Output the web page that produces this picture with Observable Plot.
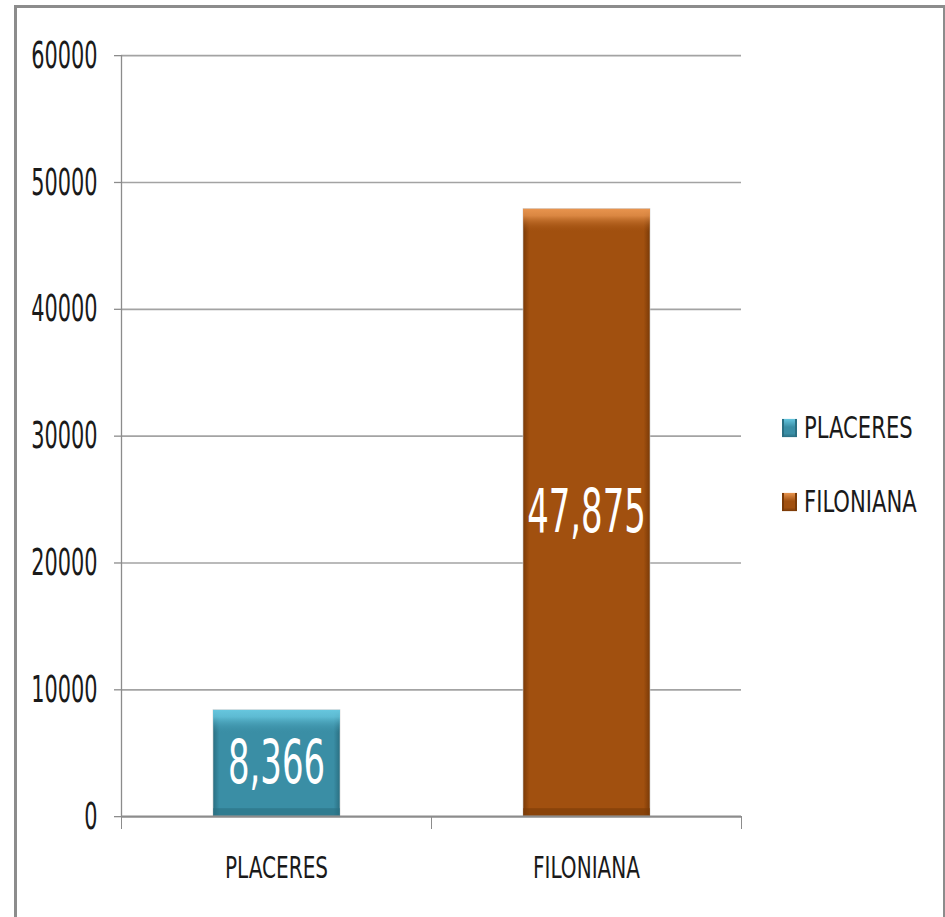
<!DOCTYPE html>
<html>
<head>
<meta charset="utf-8">
<script src="https://cdn.jsdelivr.net/npm/d3@7"></script>
<script src="https://cdn.jsdelivr.net/npm/@observablehq/plot@0.6"></script>
<style>
  html, body { margin: 0; padding: 0; background: #fff; overflow: hidden; }
  #wrap { position: relative; width: 945px; height: 917px; overflow: hidden; }
  #frame { position: absolute; left: 14px; top: 5px; width: 926px; height: 1000px; border: 3px solid #8c8c8c; box-sizing: content-box; pointer-events: none; }
  #chart { position: absolute; left: 0; top: 0; }
  .legend-item { position: absolute; left: 782px; height: 30px; display: flex; align-items: center; transform: scaleY(1.3); transform-origin: left center;
    font-family: 'Liberation Sans Narrow', 'DejaVu Sans Condensed', 'Arial Narrow', sans-serif; font-size: 23.5px; color: #1a1a1a; white-space: nowrap; }
  .swatch { width: 15px; height: 14px; margin-right: 7px; }
</style>
</head>
<body>
<div id="wrap">
  <div id="chart"></div>
  <div id="legend"></div>
  <div id="frame"></div>
</div>
<script>
// ---- data ----
const categories = ["PLACERES", "FILONIANA"];
const values = [8366, 47875];
const valueLabels = ["8,366", "47,875"];
const yTicks = [0, 10000, 20000, 30000, 40000, 50000, 60000];
const mainColors = ["#3a8ea5", "#a1500f"];
const lightColors = ["#66c6de", "#e8944e"];
const darkColors = ["#2a6f82", "#7a3a07"];

// ---- layout (chart drawn in a compressed coordinate space then stretched vertically) ----
const W = 945, H = 705, S = 917 / H;
const font = "'Liberation Sans Narrow', 'DejaVu Sans Condensed', 'Arial Narrow', sans-serif";
const idx = categories.map((d, i) => i);

const svg = Plot.plot({
  width: W,
  height: H,
  marginLeft: 121,
  marginRight: 204,
  marginTop: 55 / S,
  marginBottom: H - 816 / S,
  style: { fontFamily: font, background: "transparent", color: "#1a1a1a" },
  x: { domain: [0, categories.length], axis: null },
  y: { domain: [0, 60000], axis: null },
  color: { type: "identity" },
  marks: [
    Plot.ruleY(yTicks.slice(1), { x1: 0, x2: categories.length, stroke: "#a3a3a3", strokeWidth: 1.3 }),
    Plot.axisY({ ticks: yTicks, tickSize: 7, tickPadding: 17, fontSize: 29, stroke: "#8c8c8c", fill: "#1a1a1a", tickFormat: d => String(d), className: "ytick" }),
    Plot.ruleX([0], { y1: 0, y2: 60000, stroke: "#8c8c8c", strokeWidth: 1.3 }),
    // bar body with darker sides
    Plot.rectY(idx, { x1: i => i, x2: i => i + 1, y1: 0, y2: i => values[i], insetLeft: 92, insetRight: 91,
      fill: i => `url(#side${i})`, stroke: "#cfcfcf", strokeOpacity: 0.6, strokeWidth: 1 }),
    // top bevel highlight
    Plot.rectY(idx, { x1: i => i, x2: i => i + 1, y1: i => values[i], y2: i => values[i], insetLeft: 92, insetRight: 91, insetBottom: -18,
      fill: i => `url(#top${i})` }),
    // bottom shade
    Plot.rectY(idx, { x1: i => i, x2: i => i + 1, y1: 0, y2: 0, insetLeft: 92, insetRight: 91, insetTop: -6,
      fill: i => darkColors[i], fillOpacity: 0.6 }),
    Plot.ruleY([0], { x1: 0, x2: categories.length, stroke: "#8c8c8c", strokeWidth: 1.8 }),
    Plot.axisX({ ticks: d3.range(categories.length + 1), tickSize: 10, tickFormat: () => "", stroke: "#8c8c8c" }),
    Plot.axisX({ ticks: idx.map(i => i + 0.5), tickSize: 0, tickPadding: 31, fontSize: 23, fill: "#1a1a1a",
      tickFormat: v => categories[Math.floor(v)], className: "xlab" }),
    Plot.text(idx, { x: i => i + 0.5, y: i => values[i] / 2, text: i => valueLabels[i], fill: "white", fontSize: 46, fontFamily: font, className: "vlab" })
  ]
});

// gradients for bevel look
const defs = d3.select(svg).insert("defs", ":first-child");
idx.forEach(i => {
  const side = defs.append("linearGradient").attr("id", `side${i}`).attr("x1", 0).attr("x2", 1).attr("y1", 0).attr("y2", 0);
  side.append("stop").attr("offset", "0%").attr("stop-color", darkColors[i]);
  side.append("stop").attr("offset", "5%").attr("stop-color", mainColors[i]);
  side.append("stop").attr("offset", "95%").attr("stop-color", mainColors[i]);
  side.append("stop").attr("offset", "100%").attr("stop-color", darkColors[i]);
  const top = defs.append("linearGradient").attr("id", `top${i}`).attr("x1", 0).attr("x2", 0).attr("y1", 0).attr("y2", 1);
  top.append("stop").attr("offset", "0%").attr("stop-color", lightColors[i]);
  top.append("stop").attr("offset", "30%").attr("stop-color", lightColors[i]).attr("stop-opacity", 0.8);
  top.append("stop").attr("offset", "100%").attr("stop-color", mainColors[i]).attr("stop-opacity", 0);
});

svg.setAttribute("viewBox", `0 0 ${W} ${H}`);
svg.setAttribute("preserveAspectRatio", "none");
svg.setAttribute("width", W);
svg.setAttribute("height", 917);
svg.style.width = W + "px";
svg.style.height = "917px";
svg.style.maxWidth = "none";
document.getElementById("chart").appendChild(svg);

// narrow the glyphs horizontally to mimic the condensed face of the original
function squeeze(selector, k) {
  svg.querySelectorAll(selector).forEach(t => {
    const len = t.getComputedTextLength();
    if (len > 0) {
      t.setAttribute("textLength", len * k);
      t.setAttribute("lengthAdjust", "spacingAndGlyphs");
    }
  });
}
squeeze(".ytick text", 0.8);
squeeze(".vlab text", 0.82);
squeeze(".xlab text", 0.97);

// ---- legend ----
const legendCenters = [428, 502];
const legend = document.getElementById("legend");
categories.forEach((c, i) => {
  const item = document.createElement("div");
  item.className = "legend-item";
  item.style.top = (legendCenters[i] - 15) + "px";
  const sw = document.createElement("div");
  sw.className = "swatch";
  sw.style.background = `linear-gradient(to bottom, ${lightColors[i]} 0%, ${mainColors[i]} 45%, ${mainColors[i]} 80%, ${darkColors[i]} 100%)`;
  sw.style.boxShadow = `inset 2px 0 0 ${darkColors[i]}, inset -2px 0 0 ${darkColors[i]}`;
  const t = document.createElement("span");
  t.textContent = c;
  item.appendChild(sw);
  item.appendChild(t);
  legend.appendChild(item);
});
</script>
</body>
</html>
